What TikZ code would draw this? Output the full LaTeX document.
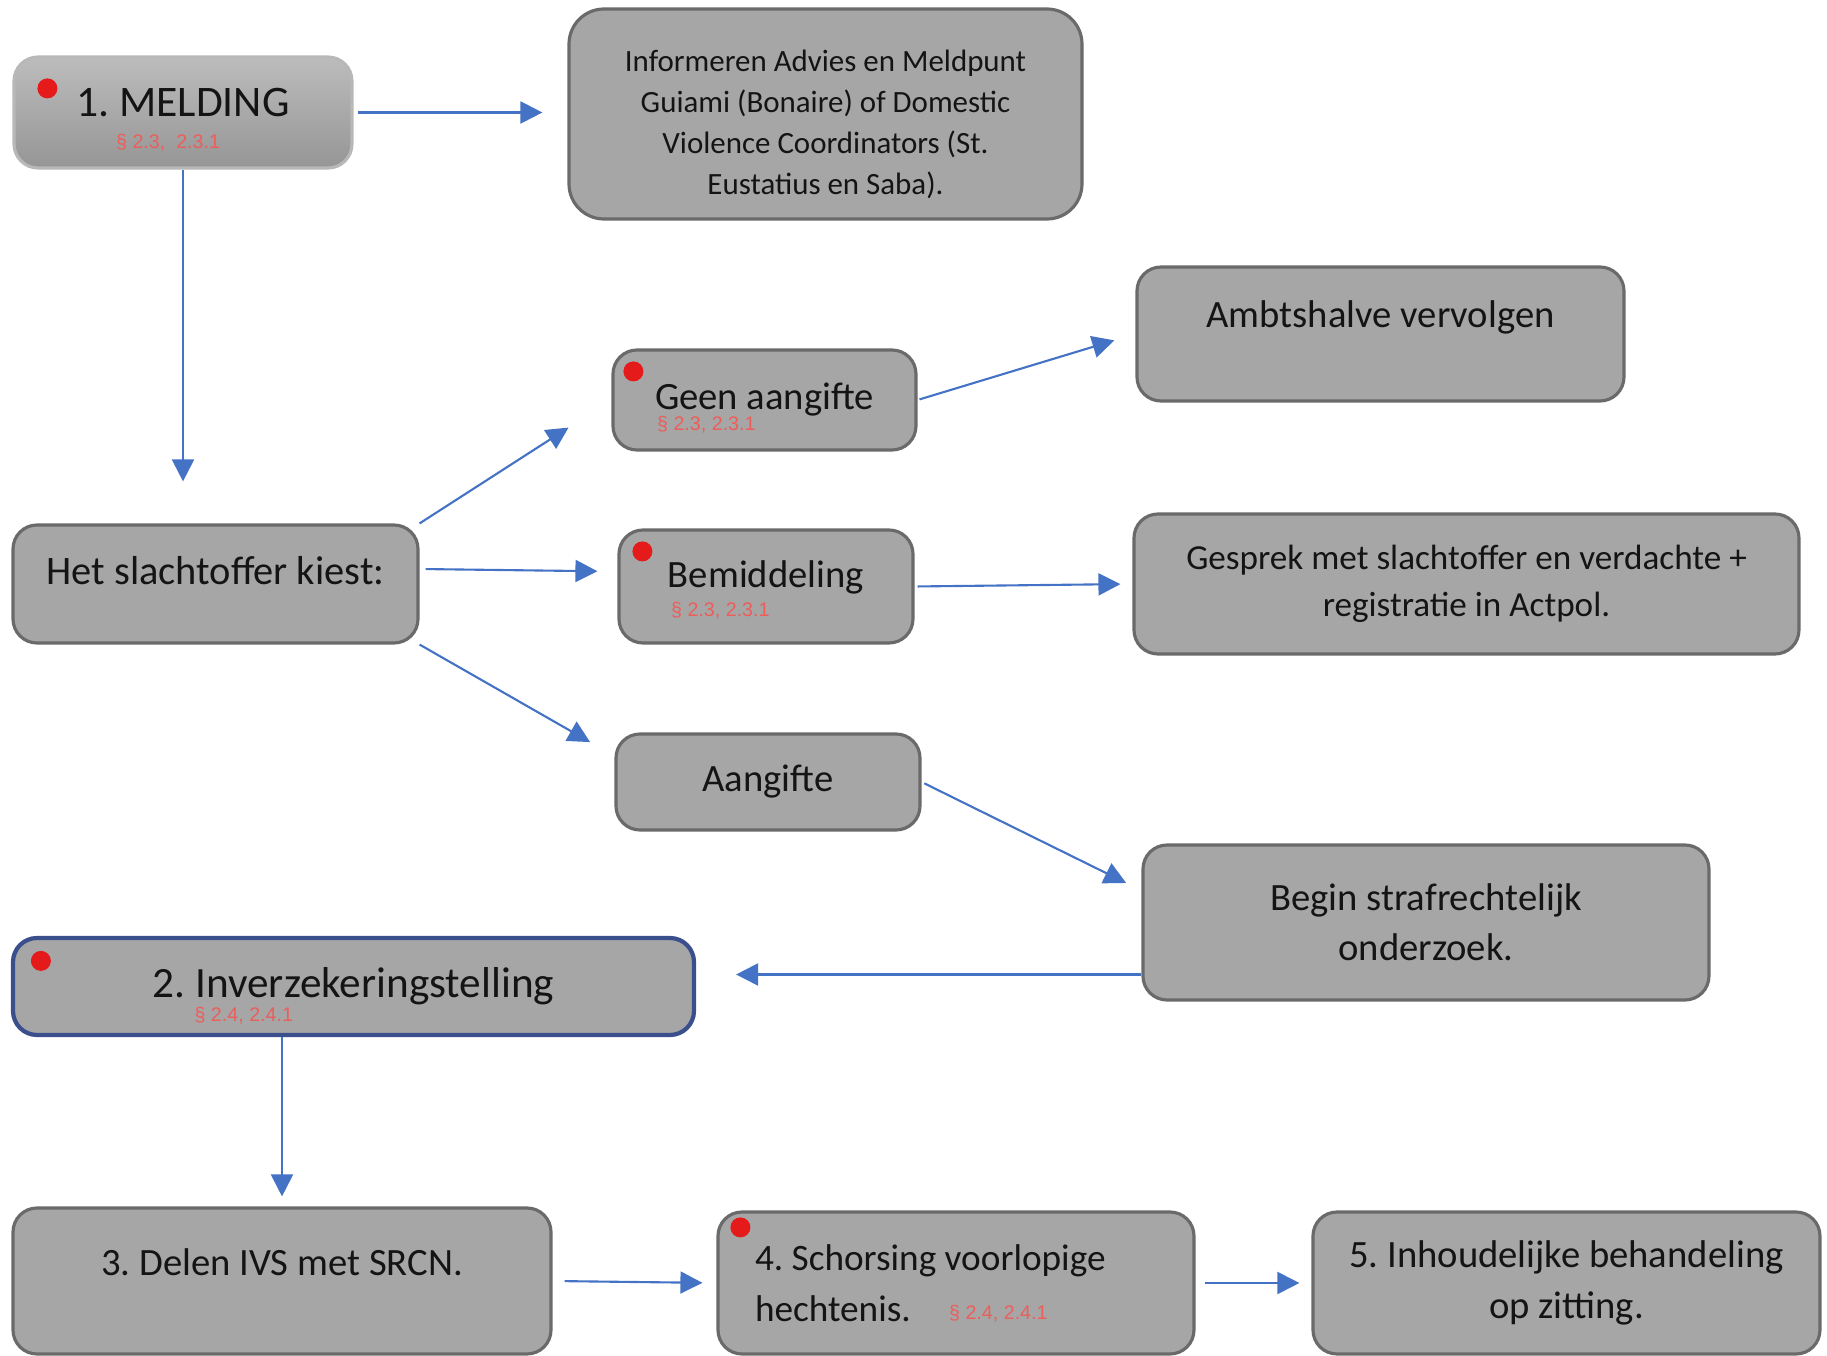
\documentclass[tikz,border=0pt]{standalone}
\usepackage{fontspec}
\setmainfont{Carlito}
\newfontfamily\reffont{Liberation Sans}
\usepackage{tikz}
\usetikzlibrary{arrows.meta,calc,positioning}
\definecolor{boxfill}{HTML}{A6A6A6}
\definecolor{boxline}{HTML}{6A6A6A}
\definecolor{arrblue}{HTML}{4472C4}
\definecolor{dotred}{HTML}{E51B1B}
\definecolor{refred}{HTML}{EC5E5A}
\definecolor{invline}{HTML}{3A4F8C}
\definecolor{txt}{HTML}{141414}
\tikzset{
  box/.style={draw=boxline, fill=boxfill, line width=0.9pt, rounded corners=2.4mm,
    align=center, inner sep=0pt, text=txt},
  fs/.style 2 args={font=\fontsize{#1}{#2}\selectfont},
  lift/.style={text depth=#1},
  arr/.style={draw=arrblue, line width=0.6pt, -{Triangle[length=2.2mm,width=2.2mm]}},
  dot/.style={circle, fill=dotred, inner sep=0pt, minimum size=2mm},
  ref/.style={text=refred, font=\reffont\fontsize{5.6}{6}\selectfont, inner sep=0pt, anchor=west}
}
\frenchspacing
\begin{document}
\begin{tikzpicture}[x=0.1mm,y=-0.1mm]
      \useasboundingbox (0,0) rectangle (1827,1356);
      % Left column
      \node[box, fs={12.4}{14}, lift=2mm, draw=boxfill!80, top color=boxfill!75, bottom color=boxfill!90!black,
        minimum width=33.8mm, minimum height=11.1mm] (melding) at (183,112.5) {1. MELDING};
      \node[box, fs={11.5}{14}, lift=2.8mm, minimum width=40.5mm, minimum height=11.8mm] (kiest) at (215.5,584) {Het slachtoffer kiest:};
      \node[box, fs={12.3}{14}, draw=invline, line width=1.2pt, minimum width=68.1mm, minimum height=9.7mm] (inv) at (353.5,986.5) {2. Inverzekeringstelling};
      \node[box, fs={11}{14}, lift=3.8mm, minimum width=53.8mm, minimum height=14.6mm] (delen) at (282,1281) {3. Delen IVS met SRCN.};
      % Middle column
      \node[box, fs={8.8}{11.6}, rounded corners=3.5mm, minimum width=51.3mm, minimum height=21mm] (info) at (825.5,114)
        {\rule{0pt}{4.2mm}Informeren Advies en Meldpunt\\Guiami (Bonaire) of Domestic\\Violence Coordinators (St.\\Eustatius en Saba).};
      \node[box, fs={11}{14}, minimum width=30.3mm, minimum height=10mm] (geen) at (764.5,400) {Geen aangifte};
      \node[box, fs={11}{14}, lift=2.4mm, minimum width=29.4mm, minimum height=11.3mm] (bem) at (766,586.5) {Bemiddeling};
      \node[box, fs={11}{14}, minimum width=30.4mm, minimum height=9.6mm] (aang) at (768,782) {Aangifte};
      \node[box, fs={10.6}{14.5}, align=flush left, text width=40.2mm, minimum width=47.6mm, minimum height=14.2mm] (schors) at (956,1283)
        {4. Schorsing voorlopige\\hechtenis.};
      % Right column
      \node[box, fs={11}{14}, lift=4mm, minimum width=48.7mm, minimum height=13.4mm] (ambt) at (1380.5,334) {Ambtshalve vervolgen};
      \node[box, fs={10}{13.3}, minimum width=66.5mm, minimum height=14mm] (gesprek) at (1466.5,584)
        {Gesprek met slachtoffer en verdachte +\\registratie in Actpol.};
      \node[box, fs={11}{14.2}, minimum width=56.6mm, minimum height=15.5mm] (begin) at (1426,922.5)
        {Begin strafrechtelijk\\onderzoek.};
      \node[box, fs={11}{14.5}, minimum width=50.7mm, minimum height=14.2mm] (inhoud) at (1566.5,1283)
        {5. Inhoudelijke behandeling\\op zitting.};
      % Red dots
      \node[dot] (melding-dot) at ([shift={(35,33)}]melding.north west) {};
      \node[dot] (geen-dot) at ([shift={(22,23)}]geen.north west) {};
      \node[dot] (bem-dot) at ([shift={(25,23)}]bem.north west) {};
      \node[dot] (inv-dot) at ([shift={(30,25)}]inv.north west) {};
      \node[dot] (schors-dot) at ([shift={(24,17)}]schors.north west) {};
      % Paragraph references
      \node[ref] (melding-ref) at ([shift={(103,87)}]melding.north west) {§ 2.3,\ \ 2.3.1};
      \node[ref] (geen-ref) at ([shift={(45,76)}]geen.north west) {§ 2.3, 2.3.1};
      \node[ref] (bem-ref) at ([shift={(53,82)}]bem.north west) {§ 2.3, 2.3.1};
      \node[ref] (inv-ref) at ([shift={(183,80)}]inv.north west) {§ 2.4, 2.4.1};
      \node[ref] (schors-ref) at ([shift={(232,103)}]schors.north west) {§ 2.4, 2.4.1};
      % Connectors
      \draw[arr, shorten <=0.4mm, shorten >=2.5mm] (melding.east) -- (melding.east -| info.west);
      \draw[arr, shorten >=4.2mm] (melding.south) -- (melding.south |- kiest.north);
      \draw[arr, shorten >=5.1mm] (kiest.north east) -- (geen.west);
      \draw[arr, shorten <=0.6mm, shorten >=2mm] ([yshift=1.5mm]kiest.east) -- ([yshift=1.5mm]bem.west);
      \draw[arr, shorten >=2.8mm] (kiest.south east) -- ([yshift=2.6mm]aang.west);
      \draw[arr, shorten <=0.2mm, shorten >=2.2mm] (geen.east) -- (ambt.west);
      \draw[arr, shorten <=0.3mm, shorten >=1.2mm] (bem.east) -- (gesprek.west);
      \draw[arr, shorten <=0.3mm, shorten >=1.7mm] (aang.east) -- ([yshift=3.2mm]begin.west);
      \coordinate (begin-out) at ([yshift=-5.2mm]begin.west);
      \draw[arr, shorten >=4mm] (begin-out) -- (begin-out -| inv.east);
      \draw[arr, shorten >=1mm] (inv.south -| delen.north) -- (delen.north);
      \draw[arr, shorten <=1.2mm, shorten >=1.4mm] (delen.east) -- (schors.west);
      \draw[arr, shorten <=0.9mm, shorten >=1.2mm] (schors.east) -- (inhoud.west);
\end{tikzpicture}
\end{document}
